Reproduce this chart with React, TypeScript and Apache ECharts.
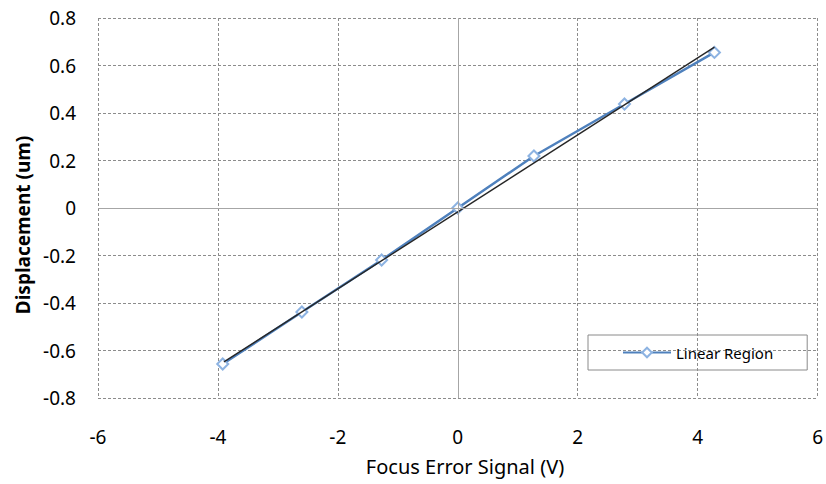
import React, { useEffect, useRef } from "react";
import * as echarts from "echarts";

const xValues = [-3.92, -2.6, -1.27, 0, 1.27, 2.78, 4.28];
const yValues = [-0.657, -0.438, -0.219, 0, 0.219, 0.438, 0.655];
const trendX = [-3.9, 4.28];
const trendY = [-0.648, 0.677];
const seriesName = "Linear Region";
const xTitle = "Focus Error Signal (V)";
const yTitle = "Displacement (um)";

export default function App() {
  const ref = useRef<HTMLDivElement>(null);
  useEffect(() => {
    if (!ref.current) return;
    const chart = echarts.init(ref.current, null, { renderer: "svg" });
    const font = "'Noto Sans', sans-serif";
    chart.setOption({
      animation: false,
      backgroundColor: "#ffffff",
      textStyle: { fontFamily: font, color: "#000" },
      grid: { left: 98, right: 8, top: 18, bottom: 86 },
      legend: {
        data: [seriesName],
        left: 588,
        top: 335,
        orient: "horizontal",
        borderColor: "#8a8a8a",
        borderWidth: 1,
        padding: [10, 34, 10, 34],
        itemWidth: 48,
        itemHeight: 12,
        itemGap: 5,
        textStyle: { fontFamily: font, fontSize: 15, color: "#000" },
      },
      graphic: [
        {
          type: "text",
          x: 465,
          y: 466,
          style: {
            text: xTitle,
            fontFamily: font,
            fontSize: 20,
            fill: "#000",
            align: "center",
            verticalAlign: "middle",
          },
        },
        {
          type: "text",
          x: 23,
          y: 225,
          rotation: Math.PI / 2,
          style: {
            text: yTitle,
            fontFamily: font,
            fontSize: 19,
            fontWeight: "bold",
            fill: "#000",
            align: "center",
            verticalAlign: "middle",
          },
        },
      ],
      xAxis: {
        type: "value",
        min: -6,
        max: 6,
        interval: 2,
        axisLine: { show: false },
        axisTick: { show: false },
        axisLabel: { fontFamily: font, fontSize: 19, color: "#000", margin: 29 },
        splitLine: { show: true, lineStyle: { color: "#8c8c8c", type: [3, 2], width: 1 } },
      },
      yAxis: {
        type: "value",
        min: -0.8,
        max: 0.8,
        interval: 0.2,
        axisLine: { show: false },
        axisTick: { show: false },
        axisLabel: {
          fontFamily: font,
          fontSize: 19,
          color: "#000",
          margin: 22,
          formatter: (v: number) => (Math.abs(v) < 1e-9 ? "0" : String(Math.round(v * 10) / 10)),
        },
        splitLine: { show: true, lineStyle: { color: "#8c8c8c", type: [3, 2], width: 1 } },
      },
      series: [
        {
          name: "zero",
          type: "line",
          data: [],
          silent: true,
          z: 1,
          markLine: {
            silent: true,
            symbol: ["none", "none"],
            label: { show: false },
            lineStyle: { color: "#a6a6a6", type: "solid", width: 1 },
            data: [{ xAxis: 0 }, { yAxis: 0 }],
          },
        },
        {
          name: seriesName,
          type: "line",
          data: xValues.map((x, i) => [x, yValues[i]]),
          symbol: "emptyDiamond",
          symbolSize: 11,
          z: 3,
          lineStyle: { color: "#4F81BD", width: 2.5 },
          itemStyle: { color: "#8DB3E2", borderWidth: 1.5 },
        },
        {
          name: "trend",
          type: "line",
          data: trendX.map((x, i) => [x, trendY[i]]),
          symbol: "none",
          z: 4,
          lineStyle: { color: "#262626", width: 1.4 },
        },
      ],
    });
    return () => chart.dispose();
  }, []);
  return (
    <div
      ref={ref}
      style={{ position: "fixed", left: 0, top: 0, width: 826, height: 484 }}
    />
  );
}
